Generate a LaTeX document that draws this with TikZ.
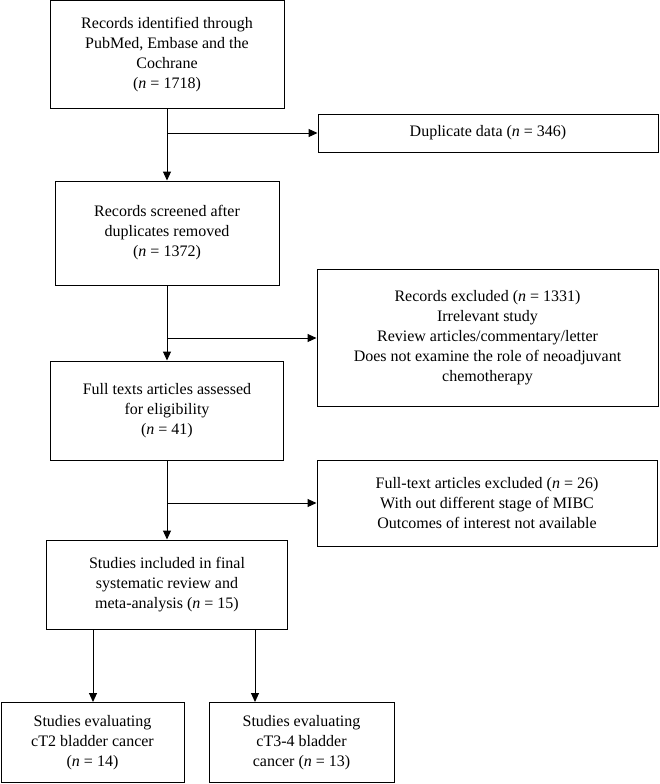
\documentclass[tikz,border=0pt]{standalone}
\usepackage{fontspec}
\setmainfont{Liberation Serif}
\usetikzlibrary{arrows.meta}
\tikzset{
  box/.style={draw, line width=1pt, inner sep=0pt, align=center,
    font=\fontsize{16}{20}\selectfont},
  arr/.style={line width=1pt, -{Triangle[length=9pt,width=8pt]}},
  ln/.style={line width=1pt}
}
\newcommand{\nn}{\textit{n}}
\begin{document}
\begin{tikzpicture}[x=1pt,y=-1pt]
\useasboundingbox (0,0) rectangle (659,784);
\node[box, minimum width=234pt, minimum height=108pt] (b1) at (167,54.5)
  {Records identified through\\PubMed, Embase and the\\Cochrane\\(\nn{} = 1718)};
\node[box, minimum width=340pt, minimum height=38pt] (dup) at (488,133)
  {Duplicate data (\nn{} = 346)};
\node[box, minimum width=224pt, minimum height=104pt] (b2) at (167,233)
  {Records screened after\\duplicates removed\\(\nn{} = 1372)};
\node[box, minimum width=341pt, minimum height=137pt] (rex) at (487.5,337.5)
  {Records excluded (\nn{} = 1331)\\Irrelevant study\\Review articles/commentary/letter\\Does not examine the role of neoadjuvant\\chemotherapy};
\node[box, minimum width=233pt, minimum height=99pt] (b3) at (167,410.5)
  {Full texts articles assessed\\for eligibility\\(\nn{} = 41)};
\node[box, minimum width=340pt, minimum height=86pt] (fex) at (487,503)
  {Full-text articles excluded (\nn{} = 26)\\With out different stage of MIBC\\Outcomes of interest not available};
\node[box, minimum width=241pt, minimum height=89pt] (b4) at (167,584.5)
  {Studies included in final\\systematic review and\\meta-analysis (\nn{} = 15)};
\node[box, minimum width=183pt, minimum height=80pt] (b5) at (92.5,742.5)
  {Studies evaluating\\cT2 bladder cancer\\(\nn{} = 14)};
\node[box, minimum width=185pt, minimum height=80pt] (b6) at (301.5,742.5)
  {Studies evaluating\\cT3-4 bladder\\cancer (\nn{} = 13)};
\coordinate (j1) at (167,133);
\coordinate (j2) at (167,338);
\coordinate (j3) at (167,503);
\coordinate (c5) at (93,700);
\coordinate (c6) at (255,700);
\draw[arr] (b1.south) -- (b2.north);
\draw[arr] (j1) -- (dup.west);
\draw[arr] (b2.south) -- (b3.north);
\draw[arr] (j2) -- (j2 -| rex.west);
\draw[arr] (b3.south) -- (b4.north);
\draw[arr] (j3) -- (fex.west);
\draw[arr] (b4.south -| c5) -- (c5 |- b5.north);
\draw[arr] (b4.south -| c6) -- (c6 |- b6.north);
\end{tikzpicture}
\end{document}
